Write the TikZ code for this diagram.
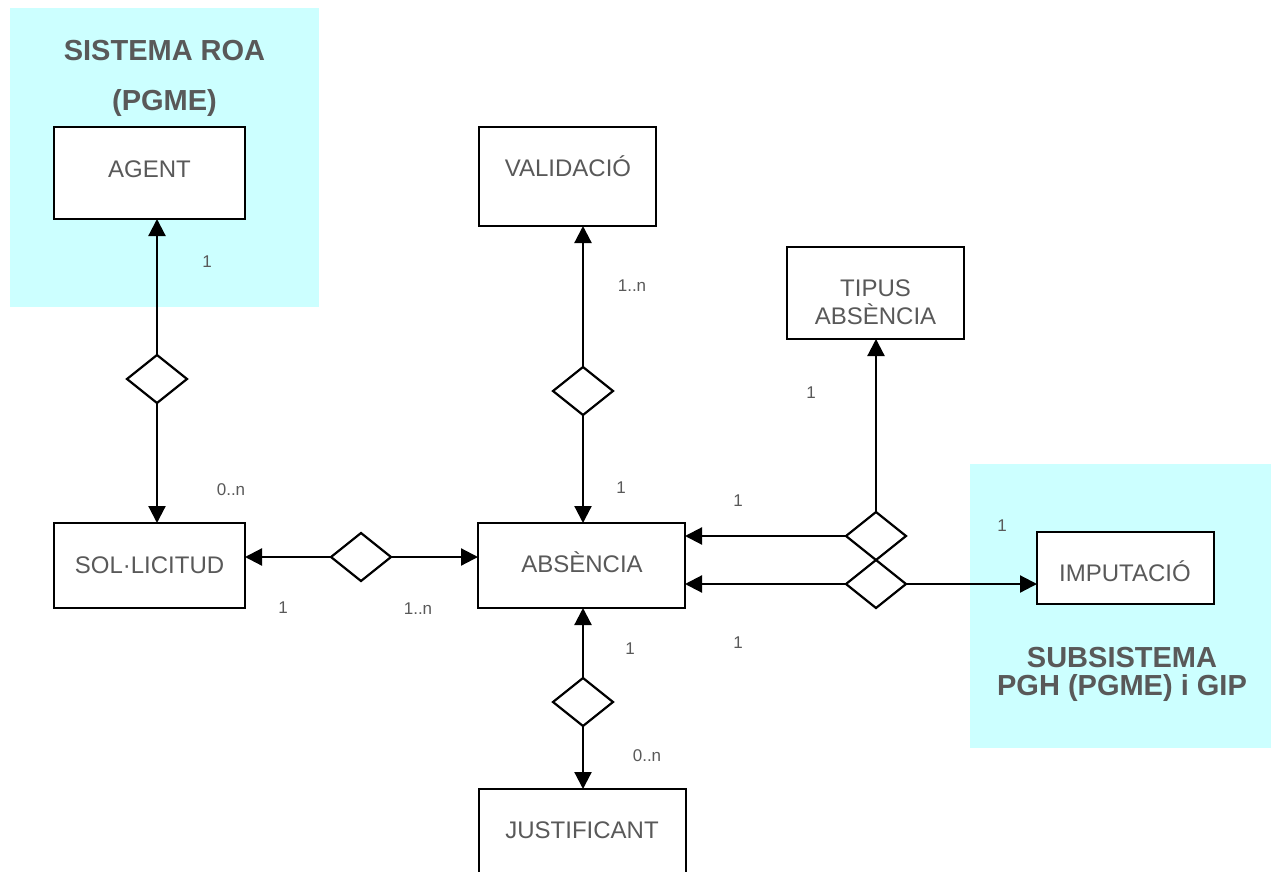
\documentclass[tikz,border=0pt]{standalone}
\usepackage{fontspec}
\setmainfont{Liberation Sans}
\usetikzlibrary{shapes.geometric,arrows.meta}
\definecolor{txt}{RGB}{89,89,89}
\definecolor{sysbg}{RGB}{204,255,255}
\begin{document}
\begin{tikzpicture}[x=1pt,y=-1pt,
  ent/.style={draw, line width=2.4pt, fill=white, inner sep=0pt, outer sep=0pt},
  rel/.style={draw, diamond, line width=2.2pt, inner sep=0pt, outer sep=0pt, minimum width=60pt, minimum height=48pt},
  etxt/.style={font=\fontsize{24}{28}\selectfont, text=txt, anchor=base, inner sep=0pt, align=center},
  ttlA/.style={font=\fontsize{29}{51}\selectfont\bfseries, text=txt, anchor=base, inner sep=0pt, align=center},
  ttlB/.style={font=\fontsize{29}{28}\selectfont\bfseries, text=txt, anchor=base, inner sep=0pt, align=center},
  lbl/.style={font=\fontsize{17}{20}\selectfont, text=txt, inner sep=0pt},
  arr/.style={line width=2.2pt, -{Triangle[length=17pt,width=17pt]}}]
\useasboundingbox (0,0) rectangle (1271,872);
\clip (0,0) rectangle (1271,872);
\fill[white] (0,0) rectangle (1271,872);
% system areas
\fill[sysbg] (10,8) rectangle (319,307);
\fill[sysbg] (970,464) rectangle (1271,748);
\node[ttlA] (roa) at (164.5,111) {SISTEMA ROA\\(PGME)};
\node[ttlB] (pgh) at (1122,695) {SUBSISTEMA\\PGH (PGME) i GIP};
% entities
\node[ent, minimum width=191pt, minimum height=92pt] (agent) at (149.5,173) {};
\node[ent, minimum width=177pt, minimum height=99pt] (valid) at (567.5,176.5) {};
\node[ent, minimum width=177pt, minimum height=92pt] (tipus) at (875.5,293) {};
\node[ent, minimum width=191pt, minimum height=85pt] (sol) at (149.5,565.5) {};
\node[ent, minimum width=207pt, minimum height=85pt] (abs) at (581.5,565.5) {};
\node[ent, minimum width=177pt, minimum height=72pt] (imput) at (1125.5,568) {};
\node[ent, minimum width=207pt, minimum height=111pt] (just) at (582.5,844.5) {};
\node[etxt] (agentT) at (149.5,177) {AGENT};
\node[etxt] (validT) at (568,176) {VALIDACIÓ};
\node[etxt] (tipusT) at (875.5,324) {TIPUS\\ABSÈNCIA};
\node[etxt] (solT) at (149.5,573) {SOL·LICITUD};
\node[etxt] (absT) at (582,572) {ABSÈNCIA};
\node[etxt] (imputT) at (1125,581) {IMPUTACIÓ};
\node[etxt] (justT) at (582,838) {JUSTIFICANT};
% relationships
\node[rel] (d1) at (157,379) {};
\node[rel] (d2) at (583,391) {};
\node[rel] (d3) at (361,557) {};
\node[rel] (d4) at (876,536) {};
\node[rel] (d5) at (876,584) {};
\node[rel] (d6) at (583,702) {};
% connectors
\draw[arr] (d1.north) -- (d1.north |- agent.south);
\draw[arr] (d1.south) -- (d1.south |- sol.north);
\draw[arr] (d2.north) -- (d2.north |- valid.south);
\draw[arr] (d2.south) -- (d2.south |- abs.north);
\draw[arr] (d3.west) -- (d3.west -| sol.east);
\draw[arr] (d3.east) -- (d3.east -| abs.west);
\draw[arr] (d4.north) -- (d4.north |- tipus.south);
\draw[arr] (d4.west) -- (d4.west -| abs.east);
\draw[arr] (d5.west) -- (d5.west -| abs.east);
\draw[arr] (d5.east) -- (d5.east -| imput.west);
\draw[arr] (d6.north) -- (d6.north |- abs.south);
\draw[arr] (d6.south) -- (d6.south |- just.north);
% cardinalities
\node[lbl] (c1) at (207,262) {1};
\node[lbl] (c2) at (231,490) {0..n};
\node[lbl] (c3) at (283,608) {1};
\node[lbl] (c4) at (418,609) {1..n};
\node[lbl] (c5) at (632,286) {1..n};
\node[lbl] (c6) at (621,488) {1};
\node[lbl] (c7) at (811,393) {1};
\node[lbl] (c8) at (738,501) {1};
\node[lbl] (c9) at (738,643) {1};
\node[lbl] (c10) at (1002,526) {1};
\node[lbl] (c11) at (630,649) {1};
\node[lbl] (c12) at (647,756) {0..n};
\end{tikzpicture}
\end{document}
